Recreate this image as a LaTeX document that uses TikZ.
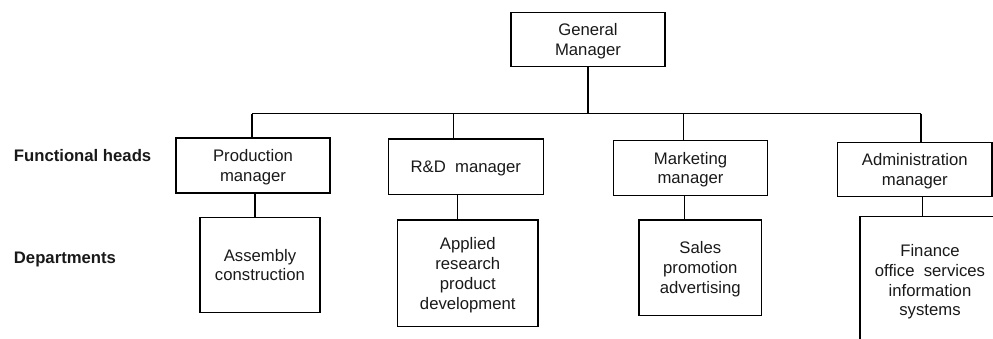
\documentclass[tikz,border=0pt]{standalone}
\usepackage{fontspec}
\setmainfont{Liberation Sans}
\begin{document}
\begin{tikzpicture}[x=1pt,y=-1pt,
  line width=1.2pt,
  every node/.style={font=\fontsize{16.7}{19.8}\selectfont, text=black!90},
  orgbox/.style={draw, rectangle, inner sep=0pt, align=center,
                 text depth=0pt, minimum width=#1},
  rowlabel/.style={anchor=west, font=\fontsize{16.7}{19.8}\selectfont\bfseries, text=black!90}]
\useasboundingbox (0,0) rectangle (993,338);
\clip (0,0) rectangle (993,338);

% top level
\node[orgbox=154, minimum height=54.7] (gm) at (588,39.5) {General\\Manager};

% functional heads
\node[orgbox=154, minimum height=55] (prod) at (253,165.5) {Production\\manager};
\node[orgbox=155, minimum height=55.3] (rd) at (465.8,166.7) {R\&D\ \ manager};
\node[orgbox=154.4, minimum height=54.6] (mkt) at (690.5,168) {Marketing\\manager};
\node[orgbox=154.3, minimum height=54.4] (adm) at (914.8,169.5) {Administration\\manager};

% departments
\node[orgbox=120, minimum height=95.4] (asm) at (260,265) {Assembly\\construction};
\node[orgbox=140.3, minimum height=106.7] (app) at (467.8,273.3) {Applied\\research\\product\\development};
\node[orgbox=122.7, minimum height=95.3] (sal) at (700.3,267.7) {Sales\\promotion\\advertising};
\node[orgbox=140, minimum height=127] (fin) at (930,280.2) {Finance\\office\ \ services\\information\\systems};

% row labels
\node[rowlabel] (lblheads) at (10,156) {Functional heads};
\node[rowlabel] (lbldeps) at (10,259) {Departments};

% branch points on the bus
\coordinate (jP) at (252,113.5);
\coordinate (jR) at (453.7,113.5);
\coordinate (jM) at (683.3,113.5);
\coordinate (jA) at (921,113.5);

% drop points to departments
\coordinate (dP) at (255,0);
\coordinate (dR) at (457.5,0);
\coordinate (dM) at (684.7,0);
\coordinate (dA) at (922.2,0);

% general manager to bus
\draw (gm.south) -- (gm.south |- jP);
\draw (jP) -- (jA);

% bus to functional heads
\draw (jP) -- (jP |- prod.north);
\draw (jR) -- (jR |- rd.north);
\draw (jM) -- (jM |- mkt.north);
\draw (jA) -- (jA |- adm.north);

% functional heads to departments
\draw (dP |- prod.south) -- (dP |- asm.north);
\draw (dR |- rd.south) -- (dR |- app.north);
\draw (dM |- mkt.south) -- (dM |- sal.north);
\draw (dA |- adm.south) -- (dA |- fin.north);
\end{tikzpicture}
\end{document}
